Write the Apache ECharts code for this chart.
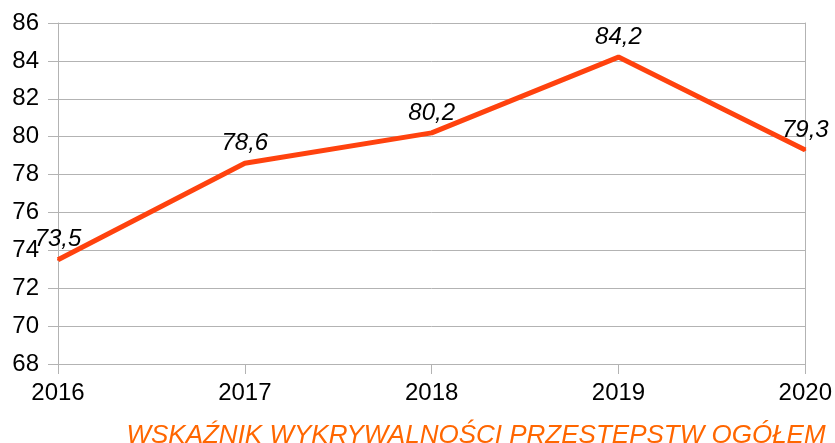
<!DOCTYPE html>
<html lang="pl">
<head>
    <meta charset="UTF-8">
    <title>Wskaźnik wykrywalności</title>
    <script src="https://cdn.jsdelivr.net/npm/echarts@6/dist/echarts.min.js"></script>
    <style>
        html, body { margin: 0; padding: 0; background: #fff; }
    </style>
</head>
<body>
    <div id="main" style="width:835px;height:443px"></div>
    <script>
        var years = ['2016', '2017', '2018', '2019', '2020'];
        var values = [73.5, 78.6, 80.2, 84.2, 79.3];
        var chartTitle = 'WSKAŹNIK WYKRYWALNOŚCI PRZESTĘPSTW OGÓŁEM';

        var myChart = echarts.init(document.getElementById('main'));
        var font = 'Liberation Sans';
        var option = {
            animation: false,
            textStyle: { fontFamily: font },
            title: {
                text: chartTitle,
                left: 471,
                top: 418,
                textAlign: 'center',
                textStyle: {
                    color: '#ff6600',
                    fontStyle: 'italic',
                    fontWeight: 'normal',
                    fontSize: 26,
                    fontFamily: font
                }
            },
            grid: { left: 58, right: 29, top: 23, bottom: 79 },
            xAxis: {
                type: 'category',
                data: years,
                boundaryGap: false,
                axisLine: { lineStyle: { color: '#b3b3b3', width: 1 } },
                axisTick: { show: true, length: 10, lineStyle: { color: '#b3b3b3' } },
                axisLabel: { color: '#000', fontSize: 24, margin: 17, fontFamily: font },
                splitLine: { show: false }
            },
            yAxis: [{
                type: 'value',
                min: 68,
                max: 86,
                interval: 2,
                axisLine: { show: true, lineStyle: { color: '#b3b3b3', width: 1 } },
                axisTick: { show: true, length: 10, lineStyle: { color: '#b3b3b3' } },
                axisLabel: { color: '#000', fontSize: 24, margin: 19, fontFamily: font },
                splitLine: { show: true, lineStyle: { color: '#b3b3b3', width: 1 } }
            }, {
                type: 'value',
                position: 'right',
                min: 68,
                max: 86,
                interval: 2,
                axisLine: { show: true, lineStyle: { color: '#b3b3b3', width: 1 } },
                axisTick: { show: false },
                axisLabel: { show: false },
                splitLine: { show: false }
            }],
            series: [{
                type: 'line',
                data: values,
                yAxisIndex: 0,
                showSymbol: true,
                symbol: 'circle',
                symbolSize: 2,
                itemStyle: { color: '#ff420e' },
                lineStyle: { color: '#ff420e', width: 5 },
                label: {
                    show: true,
                    position: 'top',
                    distance: 7,
                    color: '#000',
                    fontStyle: 'italic',
                    fontSize: 24,
                    fontFamily: font,
                    formatter: function (p) {
                        return p.value.toFixed(1).replace('.', ',');
                    }
                }
            }]
        };
        myChart.setOption(option);
    </script>
</body>
</html>
